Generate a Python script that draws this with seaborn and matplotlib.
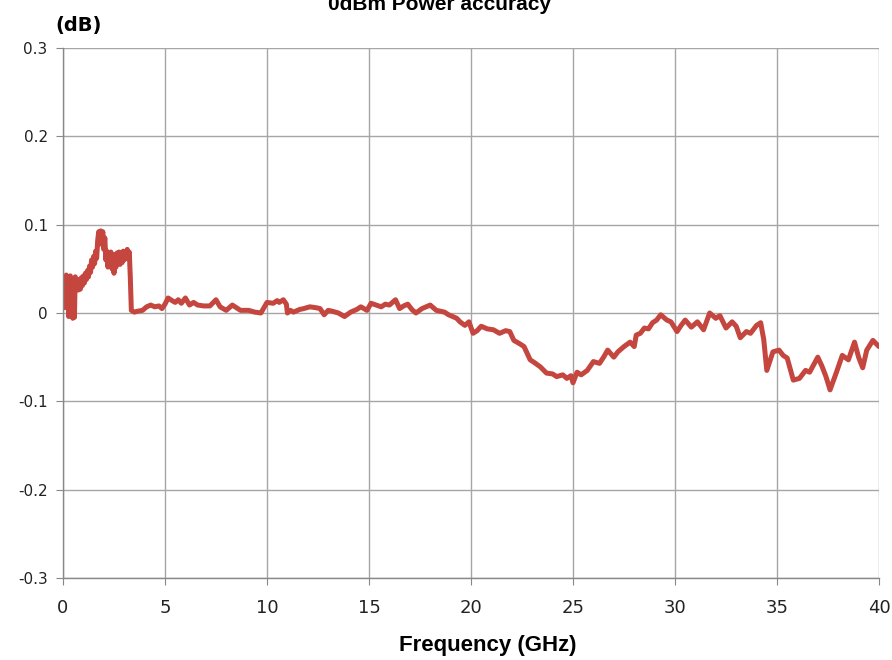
import matplotlib
matplotlib.use("Agg")
import matplotlib.pyplot as plt
import seaborn as sns
import pandas as pd

# --- data ---
# noisy low-frequency part (0 - 3.35 GHz)
low_freq = [
    0.00, 0.04, 0.08, 0.12, 0.16, 0.20, 0.24, 0.28, 0.32, 0.36, 0.40, 0.44, 0.48,
    0.52, 0.56, 0.60, 0.65, 0.70, 0.75, 0.80, 0.85, 0.90, 0.95, 1.00, 1.05, 1.10,
    1.15, 1.20, 1.25, 1.30, 1.35, 1.40, 1.45, 1.50, 1.55, 1.60, 1.65, 1.70, 1.75,
    1.80, 1.85, 1.90, 1.95, 2.00, 2.05, 2.10, 2.15, 2.20, 2.25, 2.30, 2.35, 2.40,
    2.45, 2.50, 2.55, 2.60, 2.65, 2.70, 2.75, 2.80, 2.85, 2.90, 2.95, 3.00, 3.05,
    3.10, 3.15, 3.20, 3.25, 3.30,
]
low_power = [
    0.012, 0.022, 0.006, 0.035, 0.043, 0.015, 0.040, -0.004, 0.030, 0.042, 0.010, 0.037, -0.006,
    0.030, -0.005, 0.041, 0.028, 0.036, 0.026, 0.038, 0.027, 0.040, 0.031, 0.042, 0.034, 0.045,
    0.038, 0.048, 0.041, 0.053, 0.046, 0.060, 0.052, 0.064, 0.056, 0.070, 0.062, 0.082, 0.092,
    0.078, 0.093, 0.080, 0.092, 0.072, 0.085, 0.060, 0.070, 0.052, 0.066, 0.058, 0.069, 0.050,
    0.062, 0.045, 0.066, 0.052, 0.068, 0.056, 0.069, 0.055, 0.067, 0.057, 0.070, 0.060, 0.068,
    0.062, 0.072, 0.064, 0.069, 0.040,
]
# rest of the sweep (3.35 - 40 GHz)
high_freq = [
    3.35, 3.50, 3.65, 3.90, 4.10, 4.30, 4.50, 4.70, 4.85, 5.00, 5.15, 5.35, 5.50,
    5.65, 5.80, 6.00, 6.20, 6.40, 6.60, 6.90, 7.20, 7.50, 7.70, 8.00, 8.30, 8.50,
    8.70, 9.10, 9.40, 9.70, 10.0, 10.3, 10.5, 10.6, 10.8, 10.95, 11.0, 11.15, 11.3,
    11.6, 11.8, 12.1, 12.4, 12.6, 12.8, 13.0, 13.2, 13.5, 13.8, 14.1, 14.4, 14.6,
    14.9, 15.1, 15.35, 15.6, 15.8, 16.0, 16.3, 16.5, 16.7, 16.9, 17.1, 17.3, 17.6,
    18.0, 18.3, 18.7, 18.9, 19.1, 19.3, 19.46, 19.7, 19.9, 20.1, 20.3, 20.5, 20.8,
    21.1, 21.4, 21.7, 21.9, 22.1, 22.4, 22.6, 22.9, 23.1, 23.4, 23.7, 24.0, 24.2,
    24.5, 24.7, 24.9, 25.0, 25.2, 25.4, 25.7, 26.0, 26.3, 26.5, 26.7, 27.0, 27.2,
    27.5, 27.8, 28.0, 28.1, 28.3, 28.5, 28.7, 28.9, 29.1, 29.3, 29.6, 29.8, 30.1,
    30.3, 30.5, 30.8, 31.1, 31.4, 31.7, 32.0, 32.2, 32.5, 32.8, 33.0, 33.2, 33.5,
    33.7, 34.0, 34.2, 34.35, 34.5, 34.8, 35.1, 35.3, 35.5, 35.8, 36.1, 36.4, 36.6,
    37.0, 37.2, 37.4, 37.6, 37.9, 38.2, 38.5, 38.8, 39.0, 39.2, 39.4, 39.7, 40.0,
]
high_power = [
    0.003, 0.001, 0.002, 0.003, 0.007, 0.009, 0.007, 0.008, 0.005, 0.010, 0.017, 0.014, 0.012,
    0.015, 0.011, 0.017, 0.009, 0.012, 0.009, 0.008, 0.008, 0.015, 0.007, 0.003, 0.009, 0.006,
    0.003, 0.003, 0.001, 0.000, 0.012, 0.011, 0.014, 0.012, 0.015, 0.010, 0.000, 0.003, 0.001,
    0.004, 0.005, 0.007, 0.006, 0.005, -0.002, 0.003, 0.002, 0.000, -0.004, 0.001, 0.004, 0.007,
    0.003, 0.011, 0.009, 0.007, 0.010, 0.009, 0.015, 0.005, 0.008, 0.010, 0.004, 0.000, 0.005,
    0.009, 0.003, 0.001, -0.002, -0.004, -0.006, -0.010, -0.014, -0.010, -0.023, -0.020, -0.015, -0.018,
    -0.019, -0.023, -0.020, -0.021, -0.031, -0.035, -0.038, -0.053, -0.056, -0.061, -0.068, -0.069, -0.072,
    -0.070, -0.074, -0.071, -0.079, -0.067, -0.070, -0.065, -0.055, -0.057, -0.050, -0.042, -0.050, -0.044,
    -0.038, -0.033, -0.038, -0.025, -0.023, -0.017, -0.018, -0.011, -0.008, -0.002, -0.008, -0.010, -0.021,
    -0.014, -0.008, -0.016, -0.010, -0.019, 0.000, -0.006, -0.003, -0.017, -0.010, -0.015, -0.028, -0.021,
    -0.023, -0.014, -0.011, -0.030, -0.065, -0.044, -0.042, -0.048, -0.051, -0.076, -0.074, -0.065, -0.067,
    -0.050, -0.060, -0.072, -0.087, -0.068, -0.048, -0.053, -0.033, -0.050, -0.062, -0.042, -0.031, -0.038,
]
x_ticks = [0, 5, 10, 15, 20, 25, 30, 35, 40]
y_ticks = [-0.3, -0.2, -0.1, 0, 0.1, 0.2, 0.3]
y_labels = ["-0.3", "-0.2", "-0.1", "0", "0.1", "0.2", "0.3"]

df = pd.DataFrame({"freq": low_freq + high_freq, "power": low_power + high_power})

sns.set_style("whitegrid")
plt.rcParams["font.family"] = ["DejaVu Sans"]

fig = plt.figure(figsize=(8.92, 6.6), dpi=100)
ax = fig.add_axes([63 / 892, 82 / 660, 816 / 892, 530 / 660])

sns.lineplot(data=df, x="freq", y="power", sort=False, estimator=None,
             color="#C4463F", linewidth=3.6, ax=ax)

ax.set_xlim(0, 40)
ax.set_ylim(-0.3, 0.3)
ax.set_xticks(x_ticks)
ax.set_xticklabels([str(t) for t in x_ticks],
                   family=["Liberation Sans Narrow", "DejaVu Sans"], fontsize=13,
                   color="#222222")
ax.set_yticks(y_ticks)
ax.set_yticklabels(y_labels, fontsize=11, color="#222222")
ax.grid(True, color="#A6A6A6", linewidth=1.0)
ax.set_axisbelow(True)
for side in ["top", "right"]:
    ax.spines[side].set_visible(False)
for side in ["left", "bottom"]:
    ax.spines[side].set_color("#888888")
    ax.spines[side].set_linewidth(1.0)
ax.tick_params(axis="both", which="major", length=5, color="#888888",
               direction="out", left=True, bottom=True)
ax.tick_params(axis="x", pad=10)
ax.tick_params(axis="y", pad=6)
ax.set_xlabel("")
ax.set_ylabel("")

# title sits partly above the top edge, as in the reference
fig.text(0.493, 0.993, "0dBm Power accuracy", ha="center", va="center",
         fontsize=15, fontweight="bold", color="black",
         family=["Liberation Sans", "DejaVu Sans"])
fig.text(55 / 892, 1 - 25 / 660, "(dB)", ha="left", va="center",
         fontsize=14, fontweight="bold", color="black")
fig.text(488 / 892, 1 - 645 / 660, "Frequency (GHz)", ha="center", va="center",
         fontsize=16, fontweight="bold", color="black",
         family=["Liberation Sans", "DejaVu Sans"])

fig.savefig("out.png", dpi=100)
